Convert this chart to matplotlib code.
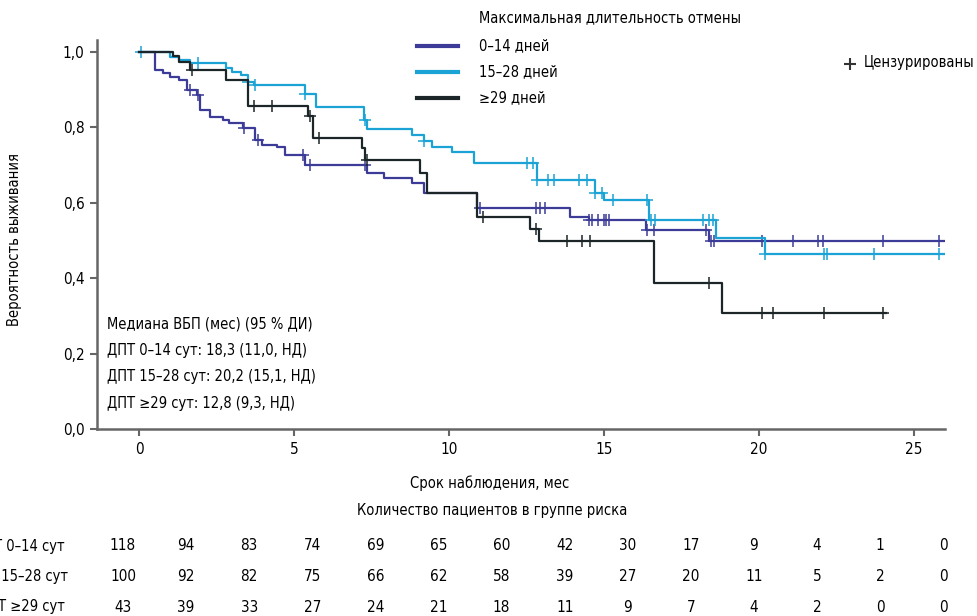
import numpy as np
import matplotlib.pyplot as plt
from matplotlib.lines import Line2D

plt.rcParams['font.family'] = ['DejaVu Sans']
plt.rcParams['font.stretch'] = 'condensed'
FS = 10.5   # text
FN = 11     # numbers / ticks

# Kaplan-Meier steps: (time of step, survival after step)
t_0_14 = [0, 0.5, 0.77, 1.0, 1.3, 1.55, 1.87, 1.97, 2.3, 2.7, 2.9, 3.35, 3.75, 3.97,
          4.45, 4.7, 5.35, 7.35, 7.9, 8.8, 9.2, 10.9, 13.9, 14.5, 16.35, 18.4]
s_0_14 = [1.0, 0.952, 0.944, 0.934, 0.926, 0.899, 0.886, 0.846, 0.828, 0.820, 0.812,
          0.798, 0.767, 0.753, 0.748, 0.727, 0.70, 0.679, 0.666, 0.652, 0.626, 0.586,
          0.563, 0.554, 0.528, 0.50]
end_0_14 = 26.0
cens_0_14 = [1.65, 1.9, 3.4, 3.85, 5.3, 5.5, 7.3, 11.0, 12.8, 12.95, 13.1, 14.5, 14.6,
             14.8, 15.0, 15.05, 15.15, 16.4, 16.6, 18.3, 18.45, 18.55, 20.1, 21.1, 21.9,
             22.05, 24.0, 25.8]

t_15_28 = [0, 1.0, 1.3, 1.65, 2.8, 3.0, 3.3, 3.5, 3.7, 5.35, 5.7, 7.25, 7.35, 8.8, 9.2,
           9.45, 10.1, 10.8, 12.85, 14.7, 15.0, 16.45, 18.6, 20.2]
s_15_28 = [1.0, 0.987, 0.98, 0.97, 0.957, 0.947, 0.939, 0.92, 0.912, 0.89, 0.854, 0.82,
           0.795, 0.78, 0.765, 0.748, 0.735, 0.705, 0.66, 0.626, 0.607, 0.554, 0.507, 0.465]
end_15_28 = 26.0
cens_15_28 = [0.05, 1.9, 3.5, 3.75, 5.35, 7.3, 9.2, 12.5, 12.7, 12.85, 13.2, 13.4, 14.2,
              14.45, 14.7, 14.95, 15.3, 16.4, 16.5, 16.65, 18.2, 18.4, 18.5, 20.2, 22.1,
              22.2, 23.7, 25.8]

t_29 = [0, 1.1, 1.3, 1.65, 2.8, 3.5, 5.45, 5.6, 7.2, 7.3, 9.06, 9.3, 10.9, 12.6, 12.9,
        16.6, 18.8]
s_29 = [1.0, 0.99, 0.973, 0.952, 0.926, 0.857, 0.83, 0.772, 0.745, 0.714, 0.68, 0.626,
        0.562, 0.53, 0.50, 0.387, 0.308]
end_29 = 24.1
cens_29 = [1.7, 3.7, 4.3, 5.5, 5.8, 7.35, 11.1, 12.8, 13.8, 14.3, 14.55, 18.4, 20.1,
           20.45, 22.1, 24.0]

groups = ['0–14 дней', '15–28 дней', '≥29 дней']
colors = ['#3c3c98', '#1aa3d4', '#1c2628']

risk_labels = ['ДПТ 0–14 сут', 'ДПТ 15–28 сут', 'ДПТ ≥29 сут']
risk_0_14 = [118, 94, 83, 74, 69, 65, 60, 42, 30, 17, 9, 4, 1, 0]
risk_15_28 = [100, 92, 82, 75, 66, 62, 58, 39, 27, 20, 11, 5, 2, 0]
risk_29 = [43, 39, 33, 27, 24, 21, 18, 11, 9, 7, 4, 2, 0, 0]

median_lines = ['Медиана ВБП (мес) (95 % ДИ)',
                'ДПТ 0–14 сут: 18,3 (11,0, НД)',
                'ДПТ 15–28 сут: 20,2 (15,1, НД)',
                'ДПТ ≥29 сут: 12,8 (9,3, НД)']

W, H = 977, 616
fig = plt.figure(figsize=(W / 100, H / 100), dpi=100)
ax = fig.add_axes([97 / W, 1 - 429 / H, (945 - 97) / W, (429 - 40) / H])

curves = [(t_0_14, s_0_14, end_0_14, cens_0_14),
          (t_15_28, s_15_28, end_15_28, cens_15_28),
          (t_29, s_29, end_29, cens_29)]
for (t, s, end, cens), col in zip(curves, colors):
    tt = np.append(t, end)
    ss = np.append(s, s[-1])
    ax.step(tt, ss, where='post', color=col, lw=1.6)
    idx = np.searchsorted(t, cens, side='right') - 1
    ax.plot(cens, np.array(s)[idx], ls='none', marker='+', ms=8, mew=1.1, color=col)

ax.set_xlim(-1.355, 26.0)
ax.set_ylim(0, 1.032)
ax.set_xticks([0, 5, 10, 15, 20, 25])
ax.set_yticks([0, 0.2, 0.4, 0.6, 0.8, 1.0])
ax.set_yticklabels(['0,0', '0,2', '0,4', '0,6', '0,8', '1,0'])
for side in ['top', 'right']:
    ax.spines[side].set_visible(False)
for side in ['left', 'bottom']:
    ax.spines[side].set_color('#666666')
    ax.spines[side].set_linewidth(1.8)
ax.tick_params(length=5, width=1.5, color='#666666', labelsize=FN, pad=4)

fig.text(15 / W, 1 - 240 / H, 'Вероятность выживания', rotation=90,
         ha='center', va='center', fontsize=FS)
fig.text(490 / W, 1 - 483 / H, 'Срок наблюдения, мес', ha='center', va='center', fontsize=FS)
fig.text(492 / W, 1 - 511 / H, 'Количество пациентов в группе риска',
         ha='center', va='center', fontsize=FS)

# median annotation
for i, line in enumerate(median_lines):
    fig.text(107 / W, 1 - (324 + 26.4 * i) / H, line, ha='left', va='center', fontsize=FS)

# legend
fig.text(479 / W, 1 - 18 / H, 'Максимальная длительность отмены',
         ha='left', va='center', fontsize=FS)
for i, (g, col) in enumerate(zip(groups, colors)):
    y = 1 - (46 + 26 * i) / H
    fig.add_artist(Line2D([417 / W, 458 / W], [y, y], color=col, lw=3))
    fig.text(479 / W, y, g, ha='left', va='center', fontsize=FS)
fig.add_artist(Line2D([850 / W], [1 - 64 / H], marker='+', ms=8, mew=1.5, color='#333333'))
fig.text(864 / W, 1 - 62 / H, 'Цензурированы', ha='left', va='center', fontsize=FS)

# number at risk table
rows = [risk_0_14, risk_15_28, risk_29]
row_ends = [65, 68, 65]
for r, (lab, vals) in enumerate(zip(risk_labels, rows)):
    y = 1 - (546 + 30.5 * r) / H
    fig.text(row_ends[r] / W, y, lab, ha='right', va='center', fontsize=FS)
    for k, v in enumerate(vals):
        fig.text((123 + 63.1 * k) / W, y, str(v), ha='center', va='center', fontsize=FN)

fig.savefig('out.png', dpi=100)
